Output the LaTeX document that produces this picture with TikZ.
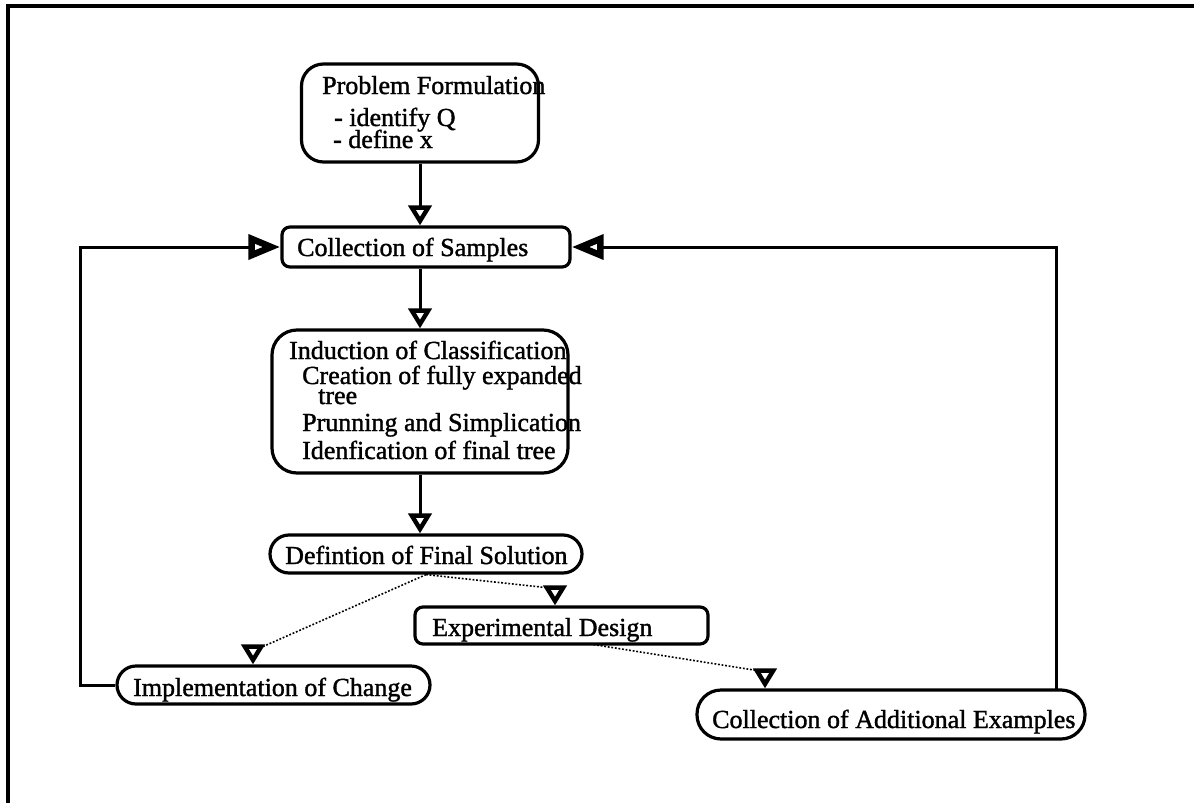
\documentclass[tikz,border=0pt]{standalone}
\usepackage{fontspec}
\setmainfont{Liberation Serif}
\newfontfamily\heavyserif{Liberation Serif}[BoldFont={*}, BoldFeatures={FakeBold=1.4}]
\usetikzlibrary{arrows.meta}
\begin{document}
\begin{tikzpicture}[x=1pt,y=-1pt,
  box/.style={draw, line width=3.2pt, rounded corners=#1, inner sep=0pt},
  txt/.style={anchor=base west, inner sep=0pt, font=\heavyserif\bfseries\fontsize{26}{26}\selectfont},
  flow/.style={line width=3pt, -{Triangle[open,length=20pt,width=23pt,line width=4.4pt]}},
  loop/.style={line width=3pt, -{Triangle[open,length=32pt,width=24pt,line width=6.5pt]}},
  dots/.style={line width=1.6pt, dash pattern=on 1.8pt off 1.8pt}]
\useasboundingbox (0,0) rectangle (1194,803);

% page frame
\draw[line width=3.4pt] (8,803) -- (8,6) -- (1194,6);

% boxes
\node[box=22pt, minimum width=237pt, minimum height=98pt] (pf) at (420,113) {};
\node[box=8pt, minimum width=288pt, minimum height=40pt] (cs) at (426,247) {};
\node[box=25pt, minimum width=296pt, minimum height=143pt] (ind) at (420,401.5) {};
\node[box=19pt, minimum width=312pt, minimum height=38pt] (dfs) at (426,554) {};
\node[box=8pt, minimum width=293pt, minimum height=37pt] (ed) at (561.5,625.5) {};
\node[box=19pt, minimum width=313pt, minimum height=38pt] (ioc) at (273.5,685) {};
\node[box=24pt, minimum width=388pt, minimum height=49pt] (cae) at (891,714.5) {};

% texts
\node[txt] (pf1) at (322,94) {Problem Formulation};
\node[txt] (pf2) at (334,126) {- identify Q};
\node[txt] (pf3) at (333,148) {- define x};
\node[txt] (cst) at (297,256) {Collection of Samples};
\node[txt] (in1) at (289,359) {Induction of Classification};
\node[txt] (in2) at (302,384) {Creation of fully expanded};
\node[txt] (in3) at (318,404) {tree};
\node[txt] (in4) at (302,431) {Prunning and Simplication};
\node[txt] (in5) at (302,459) {Idenfication of final tree};
\node[txt] (dft) at (285,564) {Defintion of Final Solution};
\node[txt] (edt) at (432,636) {Experimental Design};
\node[txt] (iot) at (133,696) {Implementation of Change};
\node[txt] (cat) at (712,728) {Collection of Additional Examples};

% main flow
\draw[flow] (pf.south) -- (pf.south |- cs.north);
\draw[flow] (ind.north |- cs.south) -- (ind.north);
\draw[flow] (ind.south) -- (ind.south |- dfs.north);

% feedback loops
\coordinate (lft) at (80,685);
\coordinate (rgt) at (1056,690);
\draw[loop] (ioc.west) -- (lft) |- (cs.west);
\draw[loop] (rgt) |- (cs.east);

% dotted branches
\coordinate (t1) at (253,647);
\coordinate (t2) at (555,588);
\coordinate (t3) at (765,671);
\coordinate (e1) at (590,644);
\draw[dots] (dfs.south) -- ([xshift=9pt]t1);
\draw[dots] (dfs.south) -- ([xshift=-5pt]t2);
\draw[dots] (e1) -- ([xshift=-5pt]t3);
\draw[flow] (t1) -- (t1 |- ioc.north);
\draw[flow] (t2) -- (t2 |- ed.north);
\draw[flow] (t3) -- (t3 |- cae.north);
\end{tikzpicture}
\end{document}
